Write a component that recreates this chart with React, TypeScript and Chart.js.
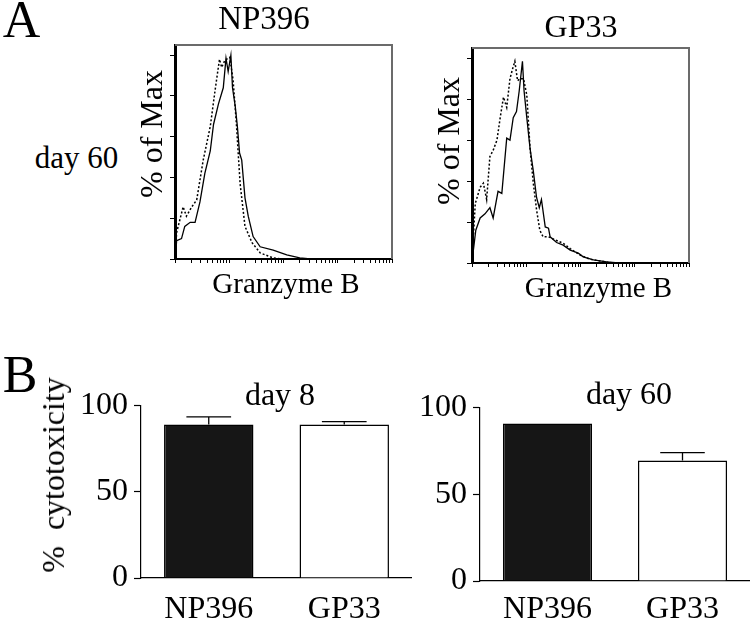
import React, { useEffect, useRef } from 'react';
import { Chart, registerables } from 'chart.js';

Chart.register(...registerables);

const SERIF = '"Liberation Serif", "Times New Roman", "DejaVu Serif", serif';

// ---------- Panel A: Granzyme B histograms (x = log10 fluorescence, y = % of max) ----------
const np396Solid: [number, number][] = [
  [0.01, 2], [0.03, 9], [0.12, 10], [0.18, 16], [0.28, 18], [0.37, 18], [0.46, 28], [0.55, 42],
  [0.65, 53], [0.71, 66], [0.8, 76], [0.89, 84], [0.94, 98.5], [0.98, 92], [1.03, 100], [1.06, 84],
  [1.11, 75], [1.15, 65], [1.19, 52], [1.23, 48.5], [1.29, 30], [1.35, 21], [1.44, 11], [1.57, 6],
  [1.81, 4.4], [2.06, 2], [2.3, 0.5], [2.5, 0], [4, 0],
];
const np396Dashed: [number, number][] = [
  [0.01, 5], [0.03, 13], [0.15, 25.6], [0.21, 21], [0.31, 25.6], [0.4, 29], [0.52, 48.5], [0.65, 65],
  [0.74, 83], [0.82, 98], [0.86, 94], [0.92, 97.5], [1.01, 99], [1.07, 88], [1.13, 67], [1.2, 37],
  [1.29, 16], [1.42, 8], [1.57, 3], [1.81, 0.5], [2.0, 0], [4, 0],
];
const gp33Solid: [number, number][] = [
  [0.02, 5], [0.07, 16], [0.15, 22], [0.24, 24], [0.33, 27], [0.39, 22], [0.48, 35], [0.55, 34],
  [0.64, 61], [0.7, 60], [0.76, 71], [0.82, 74], [0.87, 84], [0.93, 98.5], [0.96, 84], [1.01, 71],
  [1.07, 56], [1.13, 45], [1.19, 32], [1.24, 27], [1.28, 31], [1.35, 17.6], [1.41, 17], [1.44, 12.8],
  [1.56, 10], [1.68, 8.7], [1.81, 6.3], [1.96, 4.8], [2.05, 3], [2.24, 1.5], [2.48, 0.5], [2.7, 0], [4, 0],
];
const gp33Dashed: [number, number][] = [
  [0.02, 10], [0.06, 29], [0.15, 37], [0.21, 39], [0.27, 31], [0.33, 52], [0.39, 55], [0.46, 60],
  [0.52, 71], [0.58, 81], [0.64, 76], [0.7, 90], [0.75, 95], [0.79, 98.5], [0.84, 89], [0.88, 90],
  [0.95, 90], [1.01, 82], [1.07, 56], [1.13, 39], [1.19, 26], [1.25, 16], [1.31, 12.8], [1.41, 12.8],
  [1.56, 11], [1.69, 9.5], [1.81, 7], [1.99, 3.9], [2.18, 1.8], [2.36, 1], [2.6, 0], [4, 0],
];
const histDecades = [0, 1, 2, 3];
const histMinorMultipliers = [1, 2, 3, 4, 5, 6, 7, 8, 9];
const histYTicks = [0, 20, 40, 60, 80, 100];

// ---------- Panel B: % cytotoxicity ----------
const barCategories = ['NP396', 'GP33'];
const day8Values = [88.8, 88.9];
const day8Errors = [4.5, 1.6];
const day60Values = [90.6, 69.4];
const day60Errors = [0, 4.5];
const barYTicks = [0, 50, 100];
const barColors = ['#161616', '#ffffff'];

const logTickValues = (() => {
  const out: number[] = [];
  histDecades.forEach((d) => histMinorMultipliers.forEach((m) => out.push(d + Math.log10(m))));
  out.push(4);
  return out;
})();

const framePlugin = {
  id: 'frame',
  afterDraw(chart: any) {
    const { ctx, chartArea } = chart;
    const { left, right, top, bottom } = chartArea;
    ctx.save();
    ctx.strokeStyle = '#6b6b6b';
    ctx.lineWidth = 2;
    ctx.beginPath();
    ctx.moveTo(left, top);
    ctx.lineTo(right, top);
    ctx.lineTo(right, bottom);
    ctx.stroke();
    ctx.restore();
  },
};

const makeErrorBarPlugin = (errors: number[]) => ({
  id: 'errorBars',
  afterDatasetsDraw(chart: any) {
    const meta = chart.getDatasetMeta(0);
    const ys = chart.scales.y;
    const ctx = chart.ctx;
    const values = chart.data.datasets[0].data as number[];
    ctx.save();
    ctx.strokeStyle = '#000';
    ctx.lineWidth = 1.3;
    meta.data.forEach((bar: any, i: number) => {
      const e = errors[i];
      if (!e) return;
      const yBar = ys.getPixelForValue(values[i]);
      const yTop = ys.getPixelForValue(values[i] + e);
      const half = bar.width * 0.25;
      ctx.beginPath();
      ctx.moveTo(bar.x, yBar);
      ctx.lineTo(bar.x, yTop);
      ctx.moveTo(bar.x - half, yTop);
      ctx.lineTo(bar.x + half, yTop);
      ctx.stroke();
    });
    ctx.restore();
  },
});

function histConfig(solid: [number, number][], dashed: [number, number][]): any {
  return {
    type: 'line',
    data: {
      datasets: [
        {
          data: solid.map(([x, y]) => ({ x, y })),
          borderColor: '#000',
          borderWidth: 1.3,
          pointRadius: 0,
          fill: false,
          tension: 0,
        },
        {
          data: dashed.map(([x, y]) => ({ x, y })),
          borderColor: '#000',
          borderWidth: 1.5,
          borderDash: [2, 2],
          pointRadius: 0,
          fill: false,
          tension: 0,
        },
      ],
    },
    options: {
      animation: false,
      responsive: false,
      maintainAspectRatio: false,
      layout: { padding: { top: 10, right: 5, left: 0, bottom: 0 } },
      plugins: { legend: { display: false }, tooltip: { enabled: false }, title: { display: false } },
      scales: {
        x: {
          type: 'linear',
          min: 0,
          max: 4,
          afterBuildTicks: (s: any) => {
            s.ticks = logTickValues.map((v) => ({ value: v }));
          },
          ticks: { display: false },
          grid: { drawOnChartArea: false, tickLength: 4, tickColor: '#000', tickWidth: 1 },
          border: { color: '#000', width: 2 },
          afterFit: (s: any) => {
            s.height = 15;
          },
        },
        y: {
          type: 'linear',
          min: 0,
          max: 105,
          afterBuildTicks: (s: any) => {
            s.ticks = histYTicks.map((v) => ({ value: v }));
          },
          ticks: { display: false },
          grid: { drawOnChartArea: false, tickLength: 5, tickColor: '#000', tickWidth: 1 },
          border: { color: '#000', width: 3 },
          afterFit: (s: any) => {
            s.width = 25;
          },
        },
      },
    },
    plugins: [framePlugin],
  };
}

function barConfig(values: number[], errors: number[], yWidth: number, xHeight: number, labelPad: number): any {
  return {
    type: 'bar',
    data: {
      labels: barCategories,
      datasets: [
        {
          data: values,
          backgroundColor: barColors,
          borderColor: '#000',
          borderWidth: 1.5,
          barPercentage: 0.66,
          categoryPercentage: 1,
        },
      ],
    },
    options: {
      animation: false,
      responsive: false,
      maintainAspectRatio: false,
      layout: { padding: { top: 19, right: 0, left: 0, bottom: 0 } },
      plugins: { legend: { display: false }, tooltip: { enabled: false }, title: { display: false } },
      scales: {
        x: {
          grid: { display: false },
          border: { display: true, color: '#000', width: 1.2 },
          ticks: { color: '#000', font: { family: SERIF, size: 32 }, padding: labelPad },
          afterFit: (s: any) => {
            s.height = xHeight;
          },
        },
        y: {
          min: 0,
          max: 100,
          afterBuildTicks: (s: any) => {
            s.ticks = barYTicks.map((v) => ({ value: v }));
          },
          ticks: { color: '#000', font: { family: SERIF, size: 32 }, padding: 6 },
          grid: { drawOnChartArea: false, tickLength: 7, tickColor: '#000', tickWidth: 1.2 },
          border: { color: '#000', width: 1.2 },
          afterFit: (s: any) => {
            s.width = yWidth;
          },
        },
      },
    },
    plugins: [makeErrorBarPlugin(errors)],
  };
}

function ChartBox({ left, top, width, height, config }: any) {
  const ref = useRef<HTMLCanvasElement>(null);
  useEffect(() => {
    if (!ref.current) return;
    const chart = new Chart(ref.current, config);
    return () => chart.destroy();
  }, []);
  return (
    <canvas
      ref={ref}
      width={width}
      height={height}
      style={{ position: 'absolute', left, top, width, height }}
    />
  );
}

function Label({ text, cx, cy, size, rotate }: any) {
  return (
    <div
      style={{
        position: 'absolute',
        left: cx,
        top: cy,
        transform: `translate(-50%, -50%)${rotate ? ' rotate(-90deg)' : ''}`,
        fontFamily: SERIF,
        fontSize: size,
        lineHeight: 1,
        whiteSpace: 'pre',
        color: '#000',
      }}
    >
      {text}
    </div>
  );
}

export default function App() {
  return (
    <div
      style={{
        position: 'absolute',
        left: 0,
        top: 0,
        width: 750,
        height: 619,
        background: '#fff',
        overflow: 'hidden',
      }}
    >
      <ChartBox left={150} top={35} width={247} height={239} config={histConfig(np396Solid, np396Dashed)} />
      <ChartBox left={447} top={38} width={247} height={240} config={histConfig(gp33Solid, gp33Dashed)} />
      <ChartBox left={70} top={380} width={342} height={239} config={barConfig(day8Values, day8Errors, 71, 41, 4)} />
      <ChartBox left={420} top={382} width={330} height={237} config={barConfig(day60Values, day60Errors, 60, 38, 1)} />

      <Label text="A" cx={21.5} cy={20} size={52} />
      <Label text="NP396" cx={264} cy={18} size={33} />
      <Label text="GP33" cx={581} cy={26} size={32} />
      <Label text="day 60" cx={76.5} cy={157} size={31} />
      <Label text="% of Max" cx={151} cy={133.5} size={32} rotate />
      <Label text="% of Max" cx={447.5} cy={141} size={32} rotate />
      <Label text="Granzyme B" cx={286} cy={282.5} size={29} />
      <Label text="Granzyme B" cx={598.5} cy={287} size={29} />

      <Label text="B" cx={20} cy={375} size={52} />
      <Label text="%  cytotoxicity" cx={52.5} cy={475} size={32} rotate />
      <Label text="day 8" cx={280} cy={394} size={32} />
      <Label text="day 60" cx={629} cy={392.5} size={32} />
    </div>
  );
}
